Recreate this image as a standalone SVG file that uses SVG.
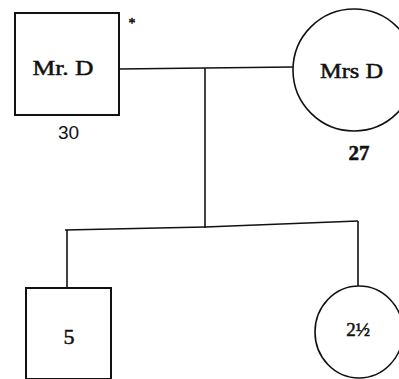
<svg xmlns="http://www.w3.org/2000/svg" width="399" height="379" viewBox="0 0 399 379">
<style>
.shape{fill:#fff;stroke:#111;stroke-width:2}
.circ{fill:#fff;stroke:#111;stroke-width:1.6}
.line{fill:none;stroke:#111;stroke-width:1.6}
.t{font-family:"Liberation Serif","Times New Roman",serif;fill:#111;stroke:#111;stroke-width:0.5;text-anchor:middle}
.s{font-family:"Liberation Sans",Arial,sans-serif;fill:#111;text-anchor:middle}
</style>
<rect width="399" height="379" fill="#fff"/>
<g id="connectors">
<polyline class="line" points="119,69 205,68 293,67"/>
<line class="line" x1="205" y1="68" x2="205" y2="228"/>
<polyline class="line" points="65,230 205,227 358,221"/>
<line class="line" x1="67" y1="230" x2="67" y2="288"/>
<line class="line" x1="358" y1="221" x2="358" y2="286"/>
</g>
<g id="mr-d">
<rect class="shape" x="15" y="13" width="104" height="102"/>
<text class="t" x="63" y="75" font-size="22" textLength="61" lengthAdjust="spacingAndGlyphs">Mr. D</text>
<text class="s" x="68.5" y="139" font-size="19">30</text>
<text class="t" x="132" y="28" font-size="14">*</text>
</g>
<g id="mrs-d">
<circle class="circ" cx="354" cy="70" r="61"/>
<text class="t" x="351.5" y="78" font-size="22" textLength="63" lengthAdjust="spacingAndGlyphs">Mrs D</text>
<text class="t" x="359" y="160" font-size="21" font-weight="bold" stroke-width="0">27</text>
</g>
<g id="son">
<rect class="shape" x="26" y="288" width="85" height="91"/>
<text class="t" x="69" y="344" font-size="22">5</text>
</g>
<g id="daughter">
<ellipse class="circ" cx="359" cy="332" rx="44" ry="46"/>
<text class="t" x="358" y="336" font-size="19">2½</text>
</g>
</svg>
